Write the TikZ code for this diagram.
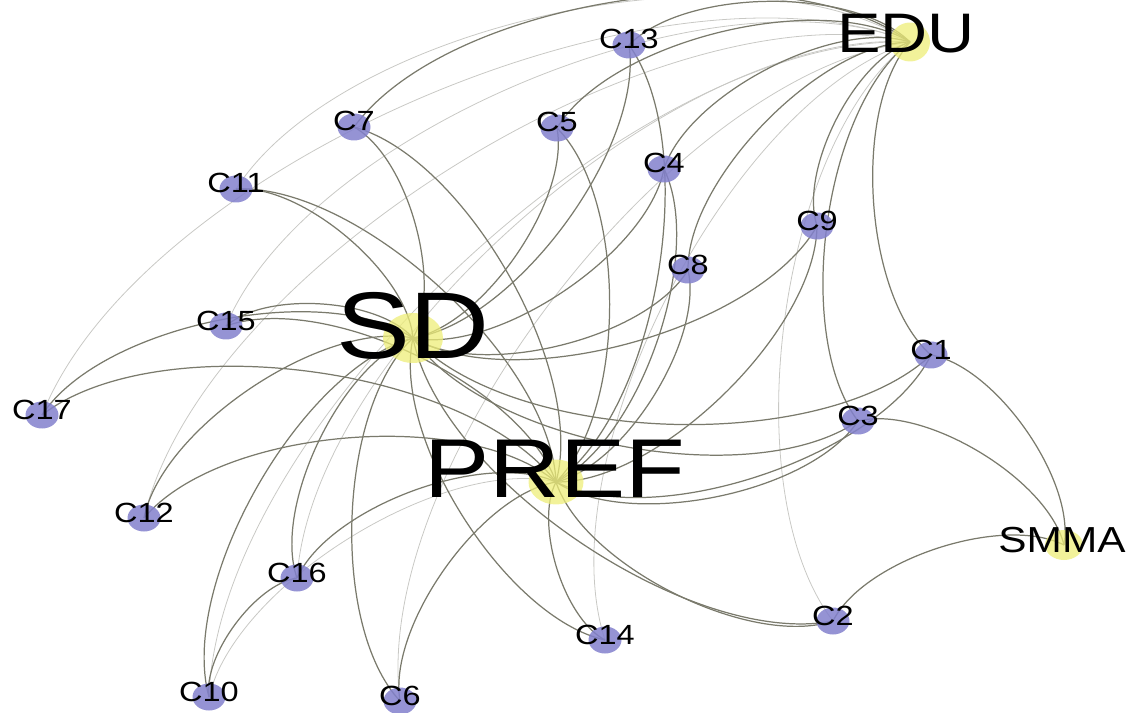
\documentclass[tikz,border=0pt]{standalone}
\usepackage{fontspec}
\setmainfont{Liberation Sans}
\usetikzlibrary{calc,shapes.geometric}
\definecolor{edgecol}{RGB}{122,122,108}
\definecolor{faintcol}{RGB}{200,200,196}
\definecolor{cfill}{RGB}{130,128,205}
\definecolor{hfill}{RGB}{238,238,120}
\newcommand\gedge[3][]{\draw[edgeline,#1] (#2) .. controls ($(#2)!0.283!45:(#3)$) and ($(#3)!0.283!-45:(#2)$) .. (#3);}
\newcommand\glab[1]{\scalebox{1.17}[1]{#1}}
\tikzset{
  edgeline/.style={draw=edgecol, line width=0.7pt},
  faint/.style={draw=faintcol, line width=0.45pt},
  cnode/.style={ellipse, fill=cfill, fill opacity=0.85, draw=none, minimum width=0.66cm, minimum height=0.54cm, inner sep=0pt},
  hnode/.style={ellipse, fill=hfill, fill opacity=0.75, draw=none, inner sep=0pt},
  clab/.style={anchor=base, inner sep=0pt, font=\fontsize{15.8pt}{16pt}\selectfont},
}
\begin{document}
\begin{tikzpicture}[x=0.02cm, y=-0.02cm]
\useasboundingbox (0,0) rectangle (1143,713);
% positions
\coordinate (EDU) at (910,42);
\coordinate (SD) at (413,338);
\coordinate (PREF) at (556,482);
\coordinate (SMMA) at (1064,545);
\coordinate (C13) at (629,45);
\coordinate (C7) at (354,127);
\coordinate (C5) at (557,128);
\coordinate (C11) at (236,189);
\coordinate (C4) at (664,169);
\coordinate (C9) at (817,226);
\coordinate (C8) at (688,270);
\coordinate (C1) at (931,355);
\coordinate (C3) at (858,421);
\coordinate (C2) at (833,621);
\coordinate (C15) at (226,326);
\coordinate (C12) at (144,518);
\coordinate (C16) at (297,578);
\coordinate (C14) at (605,640);
\coordinate (C10) at (209,697);
\coordinate (C6) at (400,701);
\coordinate (C17) at (42,415);
% faint edges
\gedge[faint]{C17}{EDU}
\gedge[faint]{C11}{EDU}
\gedge[faint]{C15}{EDU}
\gedge[faint]{C12}{EDU}
\gedge[faint]{C16}{EDU}
\gedge[faint]{C10}{EDU}
\gedge[faint]{C6}{EDU}
\gedge[faint]{C14}{EDU}
\gedge[faint]{C2}{EDU}
\gedge[faint]{C10}{PREF}
% main edges
\gedge{C7}{SD}\gedge{C7}{PREF}\gedge{C7}{EDU}
\gedge{C11}{SD}\gedge{C11}{PREF}
\gedge{C5}{SD}\gedge{C5}{PREF}\gedge{C5}{EDU}
\gedge{C13}{SD}\gedge{C13}{PREF}\gedge{C13}{EDU}
\gedge{C4}{SD}\gedge{C4}{PREF}\gedge{C4}{EDU}
\gedge{C8}{SD}\gedge{C8}{PREF}\gedge{C8}{EDU}
\gedge{C9}{SD}\gedge{C9}{PREF}\gedge{C9}{EDU}
\gedge{C1}{SD}\gedge{C1}{PREF}\gedge{C1}{EDU}\gedge{C1}{SMMA}
\gedge{C3}{SD}\gedge{C3}{PREF}\gedge{C3}{EDU}\gedge{C3}{SMMA}
\gedge{C2}{SD}\gedge{C2}{PREF}\gedge{C2}{SMMA}
\gedge{C15}{SD}\gedge{C15}{PREF}
\gedge{C17}{SD}\gedge{C17}{PREF}
\gedge{C12}{SD}\gedge{C12}{PREF}
\gedge{C16}{SD}\gedge{C16}{PREF}
\gedge{C10}{SD}\gedge{C10}{C16}
\gedge{C6}{SD}\gedge{C6}{PREF}
\gedge{C14}{SD}\gedge{C14}{PREF}
% node discs
\node[hnode, minimum width=1.2cm, minimum height=1.0cm] (SDc) at (SD) {};
\node[hnode, minimum width=1.1cm, minimum height=0.9cm] (PREFc) at (PREF) {};
\node[hnode, minimum width=0.8cm, minimum height=0.78cm] (EDUc) at (EDU) {};
\node[hnode, minimum width=0.76cm, minimum height=0.6cm] (SMMAc) at (SMMA) {};
\foreach \n in {C13,C7,C5,C11,C4,C9,C8,C1,C3,C2,C15,C12,C16,C14,C10,C6,C17}{
  \node[cnode] (\n c) at (\n) {};
  \node[clab] (\n l) at ($(\n)+(0,4)$) {\glab{\n}};
}
% hub labels
\node[anchor=base, inner sep=0pt, font=\fontsize{53.9pt}{54pt}\selectfont] (SDl) at ($(SD)+(0,20)$) {\glab{SD}};
\node[anchor=base, inner sep=0pt, font=\fontsize{47.5pt}{48pt}\selectfont] (PREFl) at ($(PREF)+(-1,15)$) {\glab{PREF}};
\node[anchor=base, inner sep=0pt, font=\fontsize{31.7pt}{32pt}\selectfont] (EDUl) at ($(EDU)+(-4,11)$) {\glab{EDU}};
\node[anchor=base, inner sep=0pt, font=\fontsize{20.6pt}{21pt}\selectfont] (SMMAl) at ($(SMMA)+(-2,7)$) {\glab{SMMA}};
\end{tikzpicture}
\end{document}
